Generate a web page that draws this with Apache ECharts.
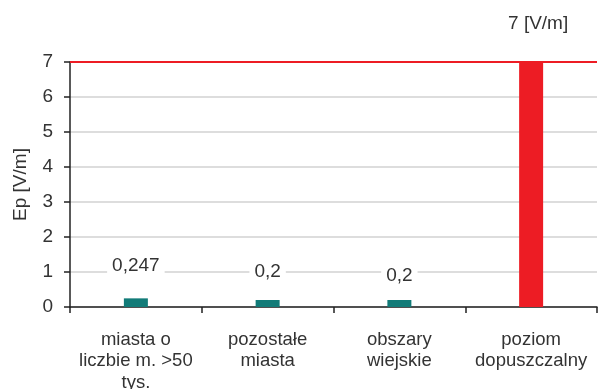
<!DOCTYPE html>
<html>
<head>
<meta charset="utf-8">
<script src="https://cdn.jsdelivr.net/npm/echarts@6/dist/echarts.min.js"></script>
<style>
  html, body { margin: 0; padding: 0; background: #fff; }
  #chart { width: 599px; height: 389px; }
</style>
</head>
<body>
<div id="chart"></div>
<script>
// Area types and measured field strength Ep [V/m]
var categories = ['miasta o\nliczbie m. >50\ntys.', 'pozostałe\nmiasta', 'obszary\nwiejskie', 'poziom\ndopuszczalny'];
var values = [0.247, 0.2, 0.2, 7];
var labelSuffix = ['', '', '', ' [V/m]'];
var limitValue = 7;
var yTicks = [0, 1, 2, 3, 4, 5, 6, 7];

var TEAL = '#127b78';
var RED = '#ed1c24';
var FONT = 'Liberation Sans, Arial, sans-serif';

// vertical nudges for the value labels above the small bars
var labelNudge = [0, 4, 8];

var barData = values.map(function (v, i) {
  var isLimit = i === values.length - 1;
  return {
    value: v,
    itemStyle: { color: isLimit ? RED : TEAL },
    label: isLimit
      ? { distance: 29, offset: [7, 0], backgroundColor: 'transparent' }
      : { distance: 23, offset: [0, labelNudge[i]] }
  };
});

var chart = echarts.init(document.getElementById('chart'), null, { renderer: 'canvas' });
chart.setOption({
  animation: false,
  grid: { left: 70, right: 2, top: 62, bottom: 82, containLabel: false, outerBoundsMode: 'none' },
  xAxis: {
    type: 'category',
    data: categories,
    axisLine: { lineStyle: { color: '#222', width: 1.5 } },
    axisTick: { show: true, length: 6, alignWithLabel: false, lineStyle: { color: '#222', width: 1.5 } },
    axisLabel: {
      interval: 0, margin: 22, color: '#333',
      fontFamily: FONT, fontSize: 18.5, lineHeight: 21.5
    }
  },
  yAxis: {
    type: 'value',
    min: yTicks[0], max: yTicks[yTicks.length - 1], interval: 1,
    name: 'Ep [V/m]',
    nameLocation: 'middle',
    nameGap: 40,
    nameTextStyle: { color: '#333', fontFamily: FONT, fontSize: 19 },
    axisLine: { show: true, lineStyle: { color: '#222', width: 1.5 } },
    axisTick: { show: true, length: 6, lineStyle: { color: '#222', width: 1.5 } },
    axisLabel: { margin: 17, color: '#333', fontFamily: FONT, fontSize: 19 },
    splitLine: { lineStyle: { color: '#d2d2d2', width: 1.5 } }
  },
  series: [{
    type: 'bar',
    data: barData,
    barWidth: 24,
    label: {
      show: true,
      position: 'top',
      color: '#333',
      fontFamily: FONT,
      fontSize: 19,
      backgroundColor: '#fff',
      padding: [0, 5],
      formatter: function (p) {
        return String(p.value).replace('.', ',') + labelSuffix[p.dataIndex];
      }
    },
    markLine: {
      silent: true,
      symbol: ['none', 'none'],
      label: { show: false },
      lineStyle: { color: RED, width: 2, type: 'solid' },
      data: [{ yAxis: limitValue }]
    }
  }]
});
</script>
</body>
</html>
